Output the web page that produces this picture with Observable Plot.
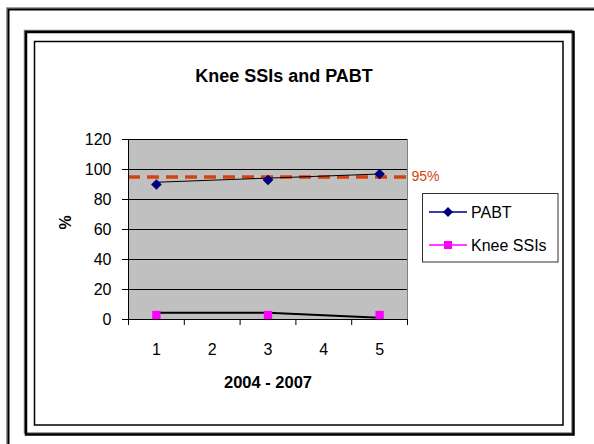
<!DOCTYPE html>
<html><head><meta charset="utf-8">
<script src="https://cdn.jsdelivr.net/npm/d3@7"></script>
<script src="https://cdn.jsdelivr.net/npm/@observablehq/plot@0.6"></script>
<style>html,body{margin:0;padding:0;background:#fff;} svg{display:block}</style>
</head><body><div id="chart"></div>
<script>
const title = "Knee SSIs and PABT";
const xLabel = "2004 - 2007";
const yLabel = "%";
const categories = [1, 2, 3, 4, 5];
const yTicks = [0, 20, 40, 60, 80, 100, 120];
const seriesNames = ["PABT", "Knee SSIs"];
const seriesColors = ["#000080", "#FF00FF"];
const pabtX = [1, 3, 5];
const pabtValues = [90, 93, 97];
const kneeX = [1, 3, 5];
const kneeValues = [3, 3, 3];
const pabtTrendX = [1, 5];
const pabtTrendValues = [91.5, 97];
const kneeTrendX = [1, 3, 5];
const kneeTrendValues = [4.5, 4.5, 1.2];
const target = 95;
const targetLabel = "95%";
const targetColor = "#D4430E";

const pabt = pabtX.map((x, i) => ({x, y: pabtValues[i]}));
const knee = kneeX.map((x, i) => ({x, y: kneeValues[i]}));
const pabtTrend = pabtTrendX.map((x, i) => ({x, y: pabtTrendValues[i]}));
const kneeTrend = kneeTrendX.map((x, i) => ({x, y: kneeTrendValues[i]}));
const bounds = categories.map(c => c - 0.5).concat([categories[categories.length - 1] + 0.5]);
const font = "Liberation Sans, Arial, sans-serif";

const chart = Plot.plot({
  width: 594, height: 444,
  marginLeft: 128, marginRight: 187, marginTop: 139, marginBottom: 125,
  style: {fontFamily: font, color: "#000", background: "transparent", overflow: "visible"},
  x: {type: "linear", domain: [bounds[0], bounds[bounds.length - 1]]},
  y: {domain: [0, 120]},
  marks: [
    Plot.frame({fill: "#C0C0C0", stroke: "#808080"}),
    Plot.ruleY(yTicks.filter(v => v > 0), {stroke: "#000", strokeWidth: 1}),
    Plot.ruleY([target], {x1: bounds[0], x2: bounds[bounds.length - 1], stroke: targetColor, strokeWidth: 3.5, strokeDasharray: "12,7"}),
    Plot.text([targetLabel], {x: bounds[bounds.length - 1], y: target, text: d => d, textAnchor: "start", dx: 4, fill: targetColor, fontSize: 14}),
    Plot.line(pabtTrend, {x: "x", y: "y", stroke: "#000", strokeWidth: 1}),
    Plot.line(kneeTrend, {x: "x", y: "y", stroke: "#000", strokeWidth: 2}),
    Plot.dot(pabt, {x: "x", y: "y", symbol: "diamond2", r: 4.8, fill: seriesColors[0], stroke: "none"}),
    Plot.dot(knee, {x: "x", y: "y", symbol: "square", r: 4.7, fill: seriesColors[1], stroke: "none"}),
    Plot.ruleX([bounds[0]], {stroke: "#000"}),
    Plot.ruleY([0], {stroke: "#000"}),
    Plot.axisY({ticks: yTicks, tickSize: 6, tickPadding: 11, fontSize: 16, label: null}),
    Plot.axisX({ticks: bounds, tickSize: 6, tickFormat: () => "", label: null}),
    Plot.axisX({ticks: categories, tickSize: 0, tickPadding: 24, fontSize: 16, label: null, tickFormat: d => String(d)}),
    Plot.text([yLabel], {frameAnchor: "left", dx: -63, rotate: -90, text: d => d, fontSize: 16, fontWeight: "bold"}),
    Plot.text([xLabel], {frameAnchor: "bottom", dy: 68, text: d => d, fontSize: 16.5, fontWeight: "bold"}),
    Plot.text([title], {frameAnchor: "top", dy: -70, dx: 16, text: d => d, fontSize: 18, fontWeight: "bold"})
  ]
});

const svg = d3.select(chart);
function frame(x, y, w, h, sw, shadow) {
  if (shadow) svg.insert("rect", ":first-child").attr("x", x - 1.5).attr("y", y - 1.5).attr("width", w).attr("height", h)
    .attr("fill", "none").attr("stroke", "#808080").attr("stroke-width", 1.5);
  svg.append("rect").attr("x", x).attr("y", y).attr("width", w).attr("height", h)
    .attr("fill", "none").attr("stroke", "#000").attr("stroke-width", sw);
}
frame(8.5, 9.5, 800, 800, 2, true);
frame(26, 32, 547.5, 402.5, 2.5, true);
frame(34.5, 41.5, 528.5, 383.5, 1.5, false);

const lg = svg.append("g").attr("text-anchor", "start");
lg.append("rect").attr("x", 422.5).attr("y", 193.5).attr("width", 135.5).attr("height", 68.5)
  .attr("fill", "#fff").attr("stroke", "#333").attr("stroke-width", 1);
const rows = [212, 245];
seriesNames.forEach((name, i) => {
  const y = rows[i];
  lg.append("line").attr("x1", 429).attr("x2", 467).attr("y1", y).attr("y2", y)
    .attr("stroke", seriesColors[i]).attr("stroke-width", 1.5);
  if (i === 0) {
    lg.append("path").attr("d", `M448,${y-5}L453,${y}L448,${y+5}L443,${y}Z`).attr("fill", seriesColors[i]);
  } else {
    lg.append("rect").attr("x", 444).attr("y", y - 4).attr("width", 8).attr("height", 8).attr("fill", seriesColors[i]);
  }
  lg.append("text").attr("x", 471).attr("y", y).attr("dy", "0.35em").attr("font-size", 16)
    .attr("text-anchor", "start").attr("font-family", font).attr("fill", "#000").text(name);
});

document.getElementById("chart").appendChild(chart);
</script>
</body></html>
